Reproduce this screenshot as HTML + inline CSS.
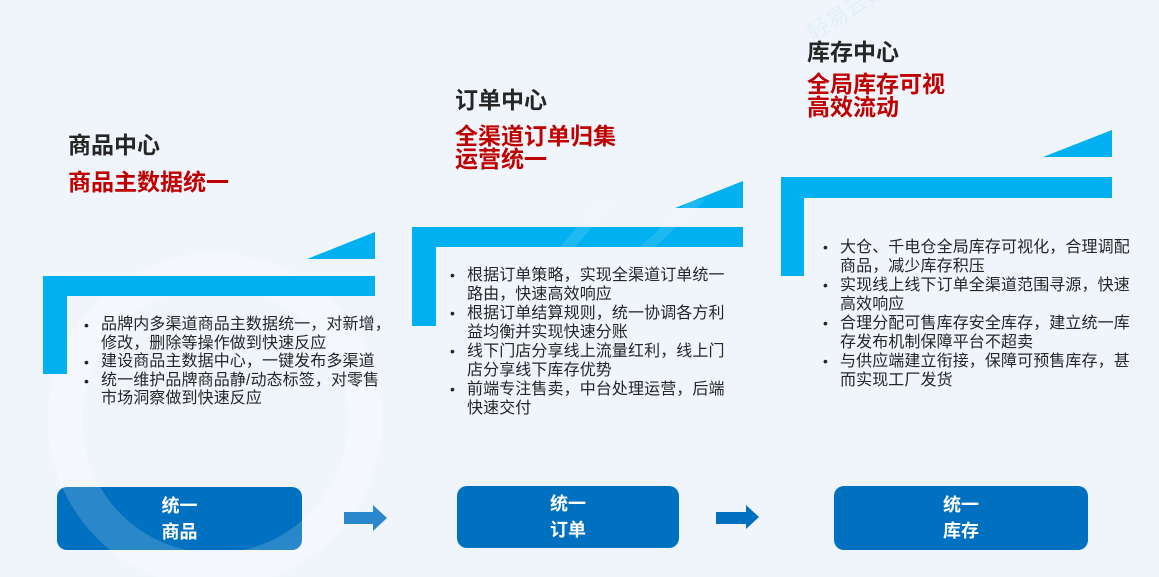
<!DOCTYPE html>
<html>
<head>
<meta charset="utf-8">
<style>
  html,body{margin:0;padding:0;}
  body{width:1159px;height:577px;position:relative;overflow:hidden;background:#f0f5fc;
    font-family:"Liberation Sans","Noto Sans CJK SC","WenQuanYi Zen Hei",sans-serif;}
  .abs{position:absolute;white-space:nowrap;}
  .h{font-weight:bold;font-size:23px;line-height:28px;color:#262626;}
  .r{font-weight:bold;font-size:23px;line-height:23px;color:#c00000;}
  .txt{font-size:16px;line-height:19px;color:#262626;letter-spacing:0.1px;}
  .txt div{position:relative;}
  .b{position:absolute;left:-17px;font-size:14px;}
  .btn{position:absolute;background:#0070c0;border-radius:10px;color:#fff;font-weight:bold;
    font-size:18px;line-height:26px;display:flex;align-items:center;justify-content:center;text-align:center;overflow:hidden;}
</style>
</head>
<body>
<svg width="1159" height="577" style="position:absolute;left:0;top:0">
  <!-- faint watermark ring -->
  <circle cx="215" cy="420" r="150" fill="none" stroke="#ffffff" stroke-opacity="0.3" stroke-width="34"/>
  <!-- panel 1 -->
  <polygon points="307,259 375,232 375,259" fill="#00b0f0"/>
  <rect x="43" y="276" width="332" height="20" fill="#00b0f0"/>
  <rect x="43" y="276" width="24" height="98" fill="#00b0f0"/>
  <!-- panel 2 -->
  <polygon points="675,208 743,181 743,208" fill="#00b0f0"/>
  <rect x="412" y="227" width="331" height="20" fill="#00b0f0"/>
  <rect x="412" y="227" width="24" height="99" fill="#00b0f0"/>
  <!-- panel 3 -->
  <polygon points="1043,157 1112,130 1112,157" fill="#00b0f0"/>
  <rect x="781" y="177" width="331" height="21" fill="#00b0f0"/>
  <rect x="781" y="177" width="23" height="99" fill="#00b0f0"/>
  <!-- faint watermark stripes over bars -->
  <polygon points="560,247 600,200 615,200 575,247" fill="#ffffff" fill-opacity="0.12"/>
  <polygon points="640,247 690,200 705,200 655,247" fill="#ffffff" fill-opacity="0.12"/>
  <!-- arrows -->
  <polygon points="344,512 373,512 373,505 387,518 373,531 373,524 344,524" fill="#2b87cc"/>
  <polygon points="716,512 746,512 746,505 759,517 746,529 746,524 716,524" fill="#0070c0"/>
</svg>

<div class="abs" style="left:800px;top:20px;font-size:22px;color:#00a0e6;opacity:0.06;transform:rotate(-32deg);transform-origin:left top;">轻易云数据集成</div>

<!-- headings -->
<div class="abs h" style="left:68px;top:131px;">商品中心</div>
<div class="abs r" style="left:68px;top:171px;">商品主数据统一</div>

<div class="abs h" style="left:455px;top:86px;">订单中心</div>
<div class="abs r" style="left:455px;top:125px;">全渠道订单归集<br>运营统一</div>

<div class="abs h" style="left:807px;top:38px;">库存中心</div>
<div class="abs r" style="left:807px;top:73px;">全局库存可视<br>高效流动</div>

<!-- bullet texts -->
<div class="abs txt" style="left:101px;top:316px;line-height:18.6px;">
  <div><span class="b">•</span>品牌内多渠道商品主数据统一，对新增，</div>
  <div>修改，删除等操作做到快速反应</div>
  <div><span class="b">•</span>建设商品主数据中心，一键发布多渠道</div>
  <div><span class="b">•</span>统一维护品牌商品静/动态标签，对零售</div>
  <div>市场洞察做到快速反应</div>
</div>

<div class="abs txt" style="left:467px;top:266px;">
  <div><span class="b">•</span>根据订单策略，实现全渠道订单统一</div>
  <div>路由，快速高效响应</div>
  <div><span class="b">•</span>根据订单结算规则，统一协调各方利</div>
  <div>益均衡并实现快速分账</div>
  <div><span class="b">•</span>线下门店分享线上流量红利，线上门</div>
  <div>店分享线下库存优势</div>
  <div><span class="b">•</span>前端专注售卖，中台处理运营，后端</div>
  <div>快速交付</div>
</div>

<div class="abs txt" style="left:840px;top:238px;">
  <div><span class="b">•</span>大仓、千电仓全局库存可视化，合理调配</div>
  <div>商品，减少库存积压</div>
  <div><span class="b">•</span>实现线上线下订单全渠道范围寻源，快速</div>
  <div>高效响应</div>
  <div><span class="b">•</span>合理分配可售库存安全库存，建立统一库</div>
  <div>存发布机制保障平台不超卖</div>
  <div><span class="b">•</span>与供应端建立衔接，保障可预售库存，甚</div>
  <div>而实现工厂发货</div>
</div>

<!-- buttons -->
<div class="btn" style="left:57px;top:487px;width:245px;height:63px;">
  <svg width="245" height="63" style="position:absolute;left:0;top:0">
    <circle cx="158" cy="-67" r="150" fill="none" stroke="#ffffff" stroke-opacity="0.16" stroke-width="34"/>
  </svg>
  <span style="position:relative">统一<br>商品</span>
</div>
<div class="btn" style="left:457px;top:486px;width:222px;height:62px;">统一<br>订单</div>
<div class="btn" style="left:834px;top:486px;width:254px;height:64px;">统一<br>库存</div>
</body>
</html>
